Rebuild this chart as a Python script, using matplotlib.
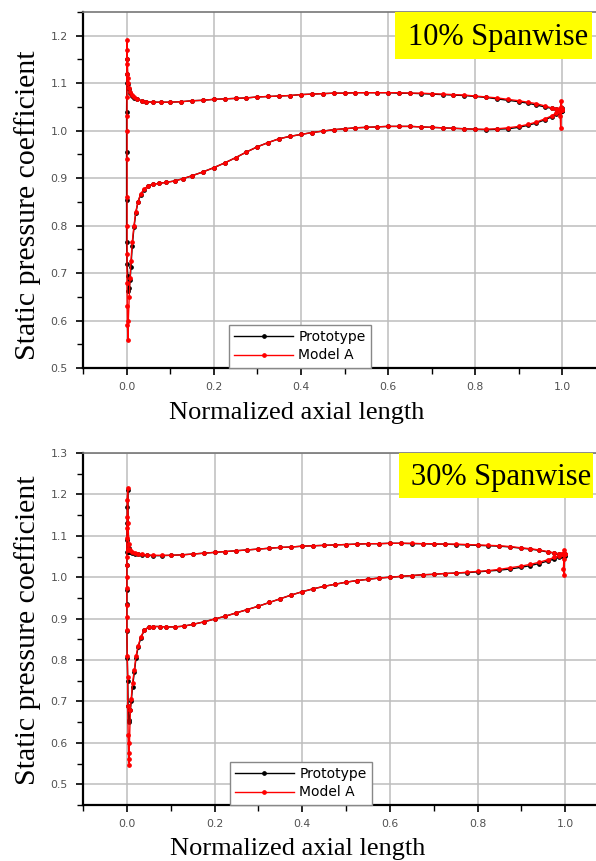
import matplotlib
matplotlib.use("Agg")
import matplotlib.pyplot as plt
from matplotlib.patches import Rectangle
from matplotlib.ticker import MultipleLocator

# ---- data ----
# x stations along the two blade surfaces (leading edge -> trailing edge)
x_up = [0.003, 0.005, 0.008, 0.012, 0.018, 0.025, 0.035, 0.045, 0.06, 0.08,
        0.10, 0.125, 0.15, 0.175, 0.20, 0.225, 0.25, 0.275, 0.30, 0.325,
        0.35, 0.375, 0.40, 0.425, 0.45, 0.475, 0.50, 0.525, 0.55, 0.575,
        0.60, 0.625, 0.65, 0.675, 0.70, 0.725, 0.75, 0.775, 0.80, 0.825,
        0.85, 0.875, 0.90, 0.92, 0.94, 0.96, 0.975, 0.985, 0.993, 0.998]
x_lo = [0.004, 0.006, 0.008, 0.010, 0.013, 0.017, 0.021, 0.026, 0.032, 0.04,
        0.05, 0.06, 0.075, 0.09, 0.11, 0.13, 0.15, 0.175, 0.20, 0.225,
        0.25, 0.275, 0.30, 0.325, 0.35, 0.375, 0.40, 0.425, 0.45, 0.475,
        0.50, 0.525, 0.55, 0.575, 0.60, 0.625, 0.65, 0.675, 0.70, 0.725,
        0.75, 0.775, 0.80, 0.825, 0.85, 0.875, 0.90, 0.92, 0.94, 0.96,
        0.975, 0.985, 0.993, 0.998]

# 10% span
up10_model = [1.100, 1.090, 1.081, 1.075, 1.070, 1.066, 1.063, 1.061, 1.060, 1.060,
              1.060, 1.061, 1.063, 1.064, 1.066, 1.067, 1.068, 1.069, 1.071, 1.072,
              1.073, 1.074, 1.076, 1.077, 1.078, 1.079, 1.079, 1.080, 1.080, 1.080,
              1.080, 1.080, 1.079, 1.079, 1.078, 1.077, 1.076, 1.075, 1.073, 1.071,
              1.069, 1.066, 1.063, 1.060, 1.057, 1.052, 1.048, 1.046, 1.045, 1.044]
up10_proto = [1.098, 1.088, 1.080, 1.074, 1.069, 1.066, 1.063, 1.061, 1.060, 1.060,
              1.060, 1.061, 1.063, 1.064, 1.066, 1.067, 1.068, 1.069, 1.071, 1.072,
              1.073, 1.074, 1.076, 1.077, 1.078, 1.079, 1.079, 1.080, 1.080, 1.080,
              1.080, 1.079, 1.079, 1.078, 1.077, 1.076, 1.075, 1.074, 1.072, 1.070,
              1.067, 1.064, 1.061, 1.058, 1.054, 1.050, 1.047, 1.045, 1.043, 1.042]
lo10_model = [0.600, 0.650, 0.690, 0.725, 0.765, 0.800, 0.828, 0.850, 0.866, 0.877,
              0.884, 0.887, 0.889, 0.891, 0.894, 0.899, 0.905, 0.913, 0.922, 0.932,
              0.943, 0.955, 0.966, 0.975, 0.983, 0.988, 0.992, 0.996, 0.999, 1.002,
              1.004, 1.006, 1.007, 1.008, 1.009, 1.009, 1.009, 1.008, 1.007, 1.006,
              1.005, 1.004, 1.003, 1.003, 1.004, 1.006, 1.009, 1.013, 1.018, 1.025,
              1.031, 1.037, 1.042, 1.045]
lo10_proto = [0.662, 0.668, 0.685, 0.712, 0.758, 0.796, 0.826, 0.849, 0.865, 0.876,
              0.884, 0.887, 0.889, 0.891, 0.894, 0.899, 0.905, 0.913, 0.922, 0.932,
              0.943, 0.955, 0.966, 0.975, 0.983, 0.988, 0.992, 0.996, 0.999, 1.002,
              1.004, 1.006, 1.007, 1.008, 1.009, 1.009, 1.009, 1.008, 1.007, 1.006,
              1.005, 1.004, 1.003, 1.002, 1.003, 1.004, 1.007, 1.011, 1.016, 1.023,
              1.029, 1.035, 1.040, 1.043]
# leading edge (bottom of dip -> stagnation spike) and trailing edge pieces
le10_model_x = [0.003, 0.002, 0.0015, 0.001, 0.001, 0.001, 0.001, 0.001, 0.001,
                0.001, 0.0008, 0.0005, 0.0005, 0.0005, 0.001, 0.002, 0.003]
le10_model = [0.560, 0.590, 0.630, 0.680, 0.740, 0.800, 0.860, 0.940, 1.000,
              1.030, 1.070, 1.120, 1.150, 1.170, 1.190, 1.140, 1.110]
le10_proto_x = [0.003, 0.001, 0.0, 0.0, 0.0, 0.0, 0.0005, 0.001, 0.002]
le10_proto = [0.693, 0.720, 0.766, 0.854, 0.955, 1.040, 1.100, 1.150, 1.120]
te10_model_x = [0.998, 0.997, 0.996, 0.995, 0.996, 0.998]
te10_model = [1.044, 1.062, 1.050, 1.030, 1.006, 1.045]
te10_proto_x = [0.999, 1.000, 0.999]
te10_proto = [1.042, 1.047, 1.043]

# 30% span
up30_model = [1.066, 1.068, 1.066, 1.062, 1.059, 1.057, 1.055, 1.054, 1.053, 1.053,
              1.053, 1.054, 1.056, 1.058, 1.060, 1.062, 1.064, 1.066, 1.068, 1.070,
              1.072, 1.073, 1.075, 1.076, 1.077, 1.078, 1.079, 1.080, 1.081, 1.081,
              1.082, 1.082, 1.082, 1.081, 1.081, 1.080, 1.080, 1.079, 1.078, 1.077,
              1.076, 1.074, 1.071, 1.069, 1.066, 1.062, 1.059, 1.057, 1.056, 1.055]
up30_proto = [1.060, 1.062, 1.060, 1.058, 1.056, 1.055, 1.054, 1.053, 1.052, 1.052,
              1.053, 1.054, 1.056, 1.058, 1.060, 1.062, 1.064, 1.066, 1.068, 1.070,
              1.072, 1.073, 1.075, 1.076, 1.077, 1.078, 1.079, 1.080, 1.081, 1.081,
              1.082, 1.082, 1.081, 1.081, 1.080, 1.080, 1.079, 1.078, 1.077, 1.076,
              1.075, 1.073, 1.070, 1.068, 1.065, 1.061, 1.058, 1.055, 1.053, 1.051]
lo30_model = [0.560, 0.600, 0.680, 0.705, 0.745, 0.775, 0.810, 0.835, 0.856, 0.873,
              0.880, 0.881, 0.881, 0.880, 0.880, 0.882, 0.886, 0.892, 0.899, 0.906,
              0.914, 0.922, 0.930, 0.939, 0.948, 0.957, 0.965, 0.972, 0.978, 0.983,
              0.988, 0.992, 0.995, 0.998, 1.000, 1.002, 1.004, 1.006, 1.007, 1.009,
              1.010, 1.012, 1.014, 1.016, 1.019, 1.023, 1.027, 1.031, 1.036, 1.042,
              1.048, 1.052, 1.055, 1.056]
lo30_proto = [0.650, 0.655, 0.680, 0.700, 0.735, 0.770, 0.805, 0.832, 0.854, 0.872,
              0.880, 0.881, 0.881, 0.880, 0.880, 0.882, 0.886, 0.892, 0.899, 0.906,
              0.914, 0.922, 0.930, 0.939, 0.948, 0.957, 0.965, 0.972, 0.978, 0.983,
              0.988, 0.992, 0.995, 0.998, 1.000, 1.002, 1.004, 1.006, 1.007, 1.009,
              1.010, 1.011, 1.013, 1.015, 1.017, 1.020, 1.024, 1.028, 1.033, 1.039,
              1.044, 1.048, 1.051, 1.053]
le30_model_x = [0.006, 0.004, 0.003, 0.002, 0.002, 0.001, 0.0, 0.0, 0.0, 0.0, 0.0,
                0.0, 0.0, 0.0, 0.0005, 0.001, 0.001, 0.002, 0.003, 0.004]
le30_model = [0.547, 0.576, 0.620, 0.690, 0.760, 0.810, 0.873, 0.905, 0.933, 0.974,
              1.001, 1.030, 1.050, 1.095, 1.120, 1.146, 1.187, 1.215, 1.130, 1.080]
le30_proto_x = [0.003, 0.002, 0.001, 0.0, 0.0, 0.0, 0.0, 0.0, 0.0, 0.001, 0.001,
                0.002, 0.004]
le30_proto = [0.690, 0.750, 0.805, 0.870, 0.935, 0.970, 1.030, 1.060, 1.090, 1.130,
              1.170, 1.210, 1.070]
te30_model_x = [0.999, 0.998, 0.997, 0.996, 0.997, 0.999]
te30_model = [1.055, 1.066, 1.045, 1.020, 1.005, 1.056]
te30_proto_x = [0.999, 1.000, 0.999]
te30_proto = [1.051, 1.056, 1.053]

serif = ["Liberation Serif", "DejaVu Serif"]
sans = ["DejaVu Sans"]


def loop(xl, cl, xle, cle, xu, cu, xte, cte):
    # walk lower surface TE->LE, round the leading edge, upper LE->TE, close at TE
    xs = list(reversed(xl)) + xle + xu + xte
    ys = list(reversed(cl)) + cle + cu + cte
    return xs, ys


def panel(ax, proto, model, ylim, ylab_y, tag, box, tag_xy):
    px, py = loop(*proto)
    mx, my = loop(*model)
    ax.plot(px, py, "-o", color="black", lw=1.0, ms=2.4, label="Prototype", zorder=3)
    ax.plot(mx, my, "-o", color="red", lw=1.0, ms=2.4, label="Model A", zorder=4)

    ax.set_xlim(-0.1, 1.1)
    ax.set_ylim(*ylim)
    ax.xaxis.set_major_locator(MultipleLocator(0.2))
    ax.xaxis.set_minor_locator(MultipleLocator(0.1))
    ax.yaxis.set_major_locator(MultipleLocator(0.1))
    ax.yaxis.set_minor_locator(MultipleLocator(0.05))
    ax.grid(True, which="major", color="#bdbdbd", lw=1.1)
    ax.set_axisbelow(True)
    ax.tick_params(which="major", direction="out", length=5, width=1.2,
                   labelsize=7.8, labelcolor="#505050", pad=6)
    ax.tick_params(which="minor", direction="out", length=4, width=1.0)
    ax.tick_params(axis="x", pad=5)
    for lab in ax.get_xticklabels() + ax.get_yticklabels():
        lab.set_family(sans)
    ax.spines["left"].set_linewidth(1.6)
    ax.spines["bottom"].set_linewidth(1.6)
    ax.spines["top"].set_color("#777777")
    ax.spines["top"].set_linewidth(1.2)

    ax.set_xlabel("Normalized axial length", family=serif, fontsize=19)
    ax.set_ylabel("Static pressure coefficient", family=serif, fontsize=21.5)
    ax.xaxis.set_label_coords(0.409, -0.095)
    ax.yaxis.set_label_coords(-0.080, ylab_y)

    leg = ax.legend(loc="lower left", bbox_to_anchor=(0.279, 0.0), borderaxespad=0,
                    prop={"family": sans, "size": 10}, fancybox=False,
                    handlelength=4.2, borderpad=0.4, labelspacing=0.3,
                    handletextpad=0.4, framealpha=1)
    leg.get_frame().set_edgecolor("#888888")
    leg.get_frame().set_linewidth(1.0)

    x0, y0, x1 = box
    ax.add_patch(Rectangle((x0, y0), x1 - x0, 1.0 - y0, transform=ax.transAxes,
                           facecolor="#ffff00", edgecolor="none", zorder=5))
    ax.text(tag_xy[0], tag_xy[1], tag, transform=ax.transAxes, family=serif,
            fontsize=22, ha="center", va="baseline", zorder=6)


fig = plt.figure(figsize=(5.96, 8.61), dpi=100)
ax1 = fig.add_axes([83 / 596, 1 - 368 / 861, 523 / 596, 356 / 861])
ax2 = fig.add_axes([83 / 596, 1 - 805 / 861, 526 / 596, 352 / 861])

panel(ax1,
      (x_lo, lo10_proto, le10_proto_x, le10_proto, x_up, up10_proto, te10_proto_x, te10_proto),
      (x_lo, lo10_model, le10_model_x, le10_model, x_up, up10_model, te10_model_x, te10_model),
      (0.5, 1.25), 0.458, "10% Spanwise", (0.597, 0.868, 0.973), (0.794, 0.907))
panel(ax2,
      (x_lo, lo30_proto, le30_proto_x, le30_proto, x_up, up30_proto, te30_proto_x, te30_proto),
      (x_lo, lo30_model, le30_model_x, le30_model, x_up, up30_model, te30_model_x, te30_model),
      (0.45, 1.3), 0.497, "30% Spanwise", (0.601, 0.872, 0.970), (0.795, 0.909))

fig.savefig("out.png", dpi=100)
